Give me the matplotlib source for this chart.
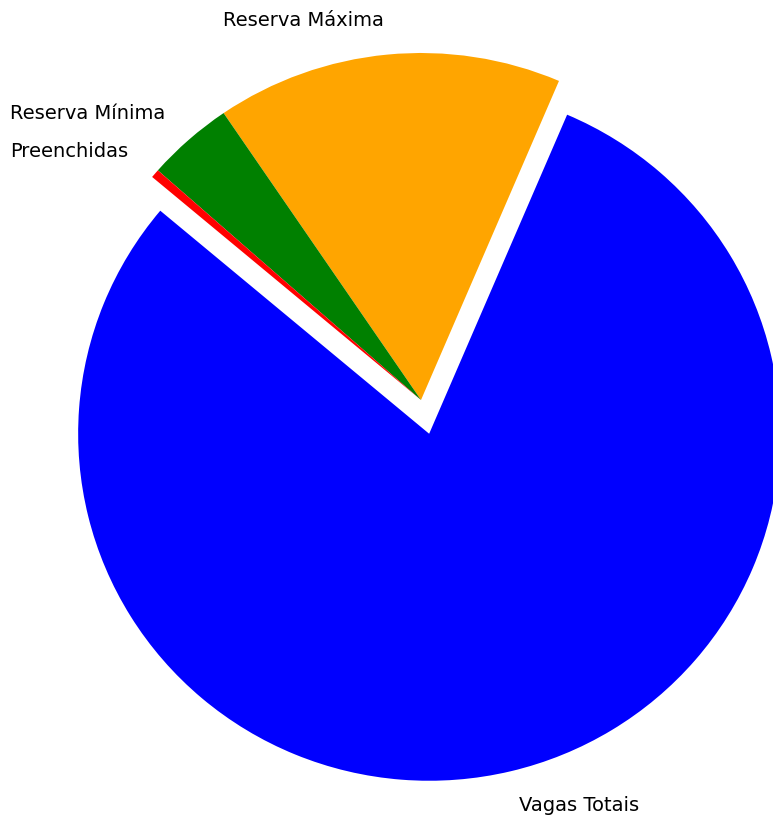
import matplotlib.pyplot as plt

# Vagas do processo seletivo
labels = ['Vagas Totais', 'Reserva Máxima', 'Reserva Mínima', 'Preenchidas']
valores = [100, 20, 5, 0.5]
cores = ['blue', 'orange', 'green', 'red']
explode = (0.1, 0, 0, 0)

fig = plt.figure(figsize=(7.73, 8.16), dpi=100)
ax = fig.add_axes([0, 0, 1, 1])

ax.pie(valores, labels=labels, colors=cores, explode=explode, startangle=140,
       textprops={'fontsize': 14})

# centro da pizza posicionado na figura (escala em pixels)
rx, ry = 351, 347
cx, cy = 421, 400
ax.set_xlim(-cx / rx, (773 - cx) / rx)
ax.set_ylim((cy - 816) / ry, cy / ry)
ax.set_aspect('auto')
ax.axis('off')

fig.savefig('out.png', dpi=100)
